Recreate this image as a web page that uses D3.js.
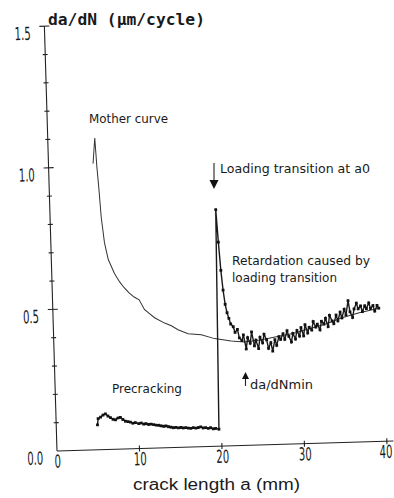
<!DOCTYPE html>
<meta charset="utf-8">
<script src="https://d3js.org/d3.v7.min.js"></script>
<style>
    body { margin: 0; background: #fff; }
    svg { display: block; }
    .plot { font-family: "Liberation Sans Narrow", "DejaVu Sans Condensed", "Liberation Sans", sans-serif; fill: #1a1a1a; }
    .ax { stroke: #222; stroke-width: 1.1; fill: none; }
</style>
<div id="chart"></div>
<script>
    // x ticks (mm) and y ticks (um/cycle)
    var xTicks = [0, 10, 20, 30, 40],
        yTicks = [0, 0.5, 1.0, 1.5],
        yMinor = [0.1, 0.2, 0.3, 0.4, 0.6, 0.7, 0.8, 0.9, 1.1, 1.2, 1.3, 1.4];

    // mother curve [crack length a, da/dN]
    var mother = [[5.4, 1.01], [5.7, 1.10], [5.85, 1.0], [6.0, 0.93], [6.2, 0.82], [6.5, 0.73], [6.9, 0.67],
        [7.6, 0.62], [8.2, 0.59], [8.7, 0.57], [9.3, 0.55], [9.9, 0.535], [10.5, 0.525], [11.1, 0.49],
        [11.7, 0.475], [12.3, 0.46], [13.5, 0.44], [14.3, 0.43], [15.1, 0.415], [16.3, 0.40], [17.9, 0.395],
        [19.5, 0.38], [20.5, 0.375], [21.5, 0.37], [23.1, 0.365], [25, 0.37], [27, 0.38], [29, 0.39],
        [31, 0.405], [33, 0.42], [35, 0.44], [37, 0.455], [39.5, 0.47]];

    // precracking, then loading transition and retardation
    var precracking = [[5.0, 0.088], [5.1, 0.110], [5.4, 0.115], [5.7, 0.122], [6.0, 0.126], [6.3, 0.118],
        [6.6, 0.112], [6.9, 0.106], [7.2, 0.104], [7.5, 0.110], [7.8, 0.112], [8.1, 0.104], [8.4, 0.098],
        [8.7, 0.096], [9.0, 0.094], [9.3, 0.090], [9.6, 0.092], [10.0, 0.088], [10.3, 0.090], [10.6, 0.086],
        [10.9, 0.087], [11.2, 0.084], [11.5, 0.085], [11.8, 0.083], [12.1, 0.081], [12.4, 0.080], [12.7, 0.078],
        [13.0, 0.076], [13.3, 0.077], [13.6, 0.074], [13.9, 0.072], [14.2, 0.070], [14.5, 0.071], [14.8, 0.069],
        [15.1, 0.070], [15.4, 0.068], [15.7, 0.069], [16.0, 0.067], [16.3, 0.066], [16.6, 0.068], [16.9, 0.066],
        [17.2, 0.068], [17.5, 0.070], [17.8, 0.066], [18.1, 0.067], [18.4, 0.064], [18.7, 0.066], [19.0, 0.062],
        [19.3, 0.063], [19.7, 0.060]];
    var retardation = [[20.1, 0.835], [20.3, 0.72], [20.5, 0.62], [20.7, 0.55], [20.9, 0.50], [21.1, 0.47],
        [21.3, 0.45], [21.5, 0.43], [21.8, 0.42], [22.0, 0.40], [22.3, 0.41], [22.5, 0.38], [22.8, 0.37],
        [23.0, 0.39], [23.3, 0.34], [23.5, 0.38], [23.8, 0.36], [24.0, 0.40], [24.3, 0.35], [24.5, 0.37],
        [24.8, 0.34], [25.0, 0.38], [25.3, 0.36], [25.5, 0.39], [25.8, 0.37], [26.0, 0.34], [26.3, 0.36],
        [26.5, 0.33], [26.8, 0.37], [27.0, 0.35], [27.3, 0.38], [27.5, 0.37], [27.8, 0.39], [28.0, 0.37],
        [28.3, 0.40], [28.5, 0.38], [28.8, 0.36], [29.0, 0.39], [29.3, 0.37], [29.5, 0.40], [29.8, 0.38],
        [30.0, 0.41], [30.3, 0.38], [30.5, 0.42], [30.8, 0.39], [31.0, 0.41], [31.3, 0.40], [31.5, 0.43],
        [31.8, 0.41], [32.0, 0.42], [32.3, 0.40], [32.5, 0.43], [32.8, 0.42], [33.0, 0.44], [33.3, 0.41],
        [33.5, 0.45], [33.8, 0.43], [34.0, 0.42], [34.3, 0.45], [34.5, 0.43], [34.8, 0.46], [35.0, 0.44],
        [35.3, 0.47], [35.5, 0.45], [35.8, 0.50], [36.0, 0.46], [36.3, 0.44], [36.5, 0.47], [36.8, 0.49],
        [37.0, 0.47], [37.3, 0.48], [37.5, 0.46], [37.8, 0.48], [38.0, 0.47], [38.3, 0.49], [38.5, 0.47],
        [38.8, 0.48], [39.0, 0.46], [39.3, 0.48], [39.5, 0.47]];

    var W = 394, H = 498;
    var svg = d3.select("#chart").append("svg").attr("width", W).attr("height", H).attr("class", "plot");

    // the scanned figure sits a little tilted
    var g = svg.append("g").attr("transform", "translate(57,451) rotate(-1.7)");
    var x = d3.scaleLinear().domain([0, 40]).range([0, 330]),
        y = d3.scaleLinear().domain([0, 1.5]).range([0, -425]);

    // axes
    g.append("line").attr("class", "ax").attr("x1", 0).attr("x2", x(40.8)).attr("y1", 0).attr("y2", 0);
    g.append("line").attr("class", "ax").attr("x1", 0).attr("x2", 0).attr("y1", 0).attr("y2", y(1.5));
    g.selectAll(".ymaj").data(yTicks.slice(1)).enter().append("line").attr("class", "ax")
        .attr("x1", -5).attr("x2", 5).attr("y1", y).attr("y2", y);
    g.selectAll(".ymin").data(yMinor).enter().append("line").attr("class", "ax")
        .attr("x1", -2.5).attr("x2", 2.5).attr("y1", y).attr("y2", y);
    g.selectAll(".xmaj").data(xTicks.slice(1)).enter().append("line").attr("class", "ax")
        .attr("x1", x).attr("x2", x).attr("y1", -3).attr("y2", 3);

    // narrow plotter digits: squeeze the labels horizontally
    var sq = 0.56;
    var yAxis = g.append("g").call(d3.axisLeft(y).tickValues(yTicks).tickFormat(d3.format(".1f")).tickSize(0));
    var xAxis = g.append("g").call(d3.axisBottom(x).tickValues(xTicks).tickFormat(d3.format("d")).tickSize(0).tickPadding(4));
    [yAxis, xAxis].forEach(function(a) {
        a.select(".domain").remove();
        a.selectAll("text").attr("font-family", "DejaVu Sans, sans-serif")
            .attr("font-size", 18).attr("fill", "#1a1a1a").attr("transform", "scale(" + sq + ",1)");
    });
    yAxis.selectAll("text").attr("x", -14 / sq).attr("dy", "0.7em");
    xAxis.selectAll("text").attr("dx", function(d) { return d == 40 ? -3 : 0; });

    // series
    var line = d3.line().x(function(d) { return x(d[0]); }).y(function(d) { return y(d[1]); });
    g.append("path").datum(mother).attr("d", line).attr("fill", "none").attr("stroke", "#333").attr("stroke-width", 1);
    var measured = precracking.concat(retardation);
    g.append("path").datum(measured).attr("d", line).attr("fill", "none").attr("stroke", "#1a1a1a").attr("stroke-width", 1.4);
    g.selectAll(".pt").data(measured).enter().append("rect")
        .attr("x", function(d) { return x(d[0]) - 1.4; }).attr("y", function(d) { return y(d[1]) - 1.4; })
        .attr("width", 2.8).attr("height", 2.8).attr("fill", "#111");

    // texts
    function label(txt, tx, ty, len, size) {
        svg.append("text").attr("x", tx).attr("y", ty).attr("font-size", size || 13)
            .attr("textLength", len).attr("lengthAdjust", "spacingAndGlyphs").text(txt);
    }
    svg.append("text").attr("x", 48).attr("y", 25).attr("font-family", "DejaVu Sans Mono, monospace")
        .attr("font-weight", "bold").attr("font-size", 15).attr("textLength", 157)
        .attr("lengthAdjust", "spacingAndGlyphs").text("da/dN (\u03bcm/cycle)");
    label("Mother curve", 89, 123, 79);
    label("Loading transition at a0", 220, 173, 150);
    label("Retardation caused by", 232, 265, 138);
    label("loading transition", 232, 282, 105);
    label("Precracking", 112, 393, 70);
    label("da/dNmin", 250, 389, 63);
    svg.append("text").attr("x", 133).attr("y", 490).attr("font-family", "Liberation Sans, Arial, sans-serif")
        .attr("font-size", 16).attr("textLength", 167).attr("lengthAdjust", "spacingAndGlyphs").text("crack length a  (mm)");

    // arrows
    svg.append("line").attr("class", "ax").attr("stroke-width", 1.6).attr("x1", 214).attr("x2", 214).attr("y1", 163).attr("y2", 182);
    svg.append("path").attr("d", "M209.5,180L218.5,180L214,189Z").attr("fill", "#111");
    svg.append("line").attr("class", "ax").attr("stroke-width", 1.6).attr("x1", 245.5).attr("x2", 245.5).attr("y1", 386).attr("y2", 378);
    svg.append("path").attr("d", "M242,379L249,379L245.5,372Z").attr("fill", "#111");
</script>
